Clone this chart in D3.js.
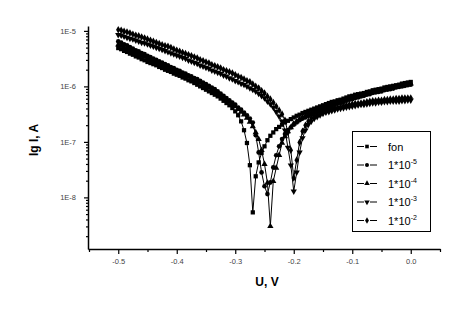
<!DOCTYPE html>
<html>
<head>
<meta charset="utf-8">
<script src="https://cdn.jsdelivr.net/npm/d3@7"></script>
<style>
body { margin: 0; background: #fff; }
svg { display: block; font-family: Arial, "Liberation Sans", sans-serif; }
</style>
</head>
<body>
<svg width="463" height="312"></svg>
<script>
// potential, V
var voltage = [-0.500,-0.495,-0.490,-0.485,-0.480,-0.475,-0.470,-0.465,-0.460,-0.455,-0.450,-0.445,-0.440,-0.435,-0.430,-0.425,-0.420,-0.415,-0.410,-0.405,
  -0.400,-0.395,-0.390,-0.385,-0.380,-0.375,-0.370,-0.365,-0.360,-0.355,-0.350,-0.345,-0.340,-0.335,-0.330,-0.325,-0.320,-0.315,-0.310,-0.305,-0.300,
  -0.295,-0.290,-0.285,-0.280,-0.275,-0.270,-0.265,-0.260,-0.255,-0.250,-0.245,-0.240,-0.235,-0.230,-0.225,-0.220,-0.215,-0.210,-0.205,-0.200,
  -0.195,-0.190,-0.185,-0.180,-0.175,-0.170,-0.165,-0.160,-0.155,-0.150,
  -0.145,-0.140,-0.135,-0.130,-0.125,-0.120,-0.115,-0.110,-0.105,-0.100,-0.095,-0.090,-0.085,-0.080,-0.075,-0.070,-0.065,-0.060,-0.055,-0.050,
  -0.045,-0.040,-0.035,-0.030,-0.025,-0.020,-0.015,-0.010,-0.005,0.000];

// lg I for each solution
var lgFon = [-5.31,-5.33,-5.36,-5.38,-5.41,-5.43,-5.46,-5.48,-5.51,-5.53,-5.56,-5.58,-5.60,-5.62,-5.65,-5.67,-5.70,-5.72,-5.74,-5.77,
  -5.79,-5.81,-5.84,-5.86,-5.89,-5.91,-5.94,-5.97,-6.00,-6.03,-6.06,-6.09,-6.12,-6.15,-6.18,-6.22,-6.26,-6.30,-6.34,-6.39,-6.45,
  -6.52,-6.63,-6.79,-7.02,-7.42,-8.27,-7.62,-7.37,-7.20,-7.08,-6.97,-6.89,-6.83,-6.77,-6.73,-6.69,-6.65,-6.62,-6.59,-6.56,
  -6.53,-6.51,-6.48,-6.46,-6.44,-6.42,-6.40,-6.38,-6.36,-6.34,
  -6.32,-6.30,-6.28,-6.27,-6.25,-6.24,-6.22,-6.20,-6.18,-6.17,-6.15,-6.14,-6.13,-6.12,-6.10,-6.09,-6.07,-6.06,-6.05,-6.04,
  -6.02,-6.01,-6.00,-5.99,-5.98,-5.97,-5.95,-5.94,-5.93,-5.92];
var lg1e5 = [-5.19,-5.21,-5.24,-5.26,-5.29,-5.32,-5.35,-5.37,-5.40,-5.42,-5.45,-5.47,-5.50,-5.52,-5.55,-5.57,-5.60,-5.62,-5.65,-5.67,
  -5.70,-5.72,-5.75,-5.77,-5.80,-5.82,-5.85,-5.87,-5.90,-5.93,-5.96,-5.99,-6.02,-6.05,-6.09,-6.13,-6.17,-6.21,-6.25,-6.29,-6.33,
  -6.38,-6.42,-6.47,-6.52,-6.58,-6.65,-6.88,-7.19,-7.55,-7.80,-7.94,-7.73,-7.46,-7.24,-7.08,-6.95,-6.86,-6.79,-6.74,-6.69,
  -6.65,-6.61,-6.58,-6.56,-6.53,-6.50,-6.48,-6.45,-6.43,-6.41,
  -6.39,-6.37,-6.35,-6.33,-6.31,-6.30,-6.28,-6.26,-6.24,-6.23,-6.21,-6.20,-6.18,-6.17,-6.15,-6.14,-6.12,-6.11,-6.10,-6.09,
  -6.07,-6.06,-6.05,-6.04,-6.02,-6.01,-6.00,-5.99,-5.98,-5.97];
var lg1e4 = [-5.25,-5.27,-5.30,-5.32,-5.35,-5.37,-5.40,-5.42,-5.45,-5.47,-5.50,-5.52,-5.55,-5.57,-5.59,-5.61,-5.64,-5.66,-5.69,-5.71,
  -5.74,-5.76,-5.78,-5.80,-5.83,-5.86,-5.89,-5.91,-5.94,-5.97,-6.00,-6.03,-6.06,-6.09,-6.13,-6.16,-6.20,-6.24,-6.28,-6.32,-6.36,
  -6.41,-6.46,-6.51,-6.57,-6.64,-6.72,-6.83,-6.95,-7.15,-7.40,-7.74,-8.52,-7.71,-7.47,-7.24,-7.02,-6.90,-6.81,-6.74,-6.67,
  -6.63,-6.59,-6.56,-6.53,-6.50,-6.48,-6.45,-6.43,-6.41,-6.39,
  -6.37,-6.35,-6.33,-6.31,-6.29,-6.27,-6.25,-6.24,-6.22,-6.21,-6.19,-6.18,-6.16,-6.15,-6.13,-6.12,-6.10,-6.09,-6.08,-6.07,
  -6.05,-6.04,-6.03,-6.02,-6.00,-5.99,-5.98,-5.97,-5.96,-5.95];
var lg1e3 = [-5.07,-5.08,-5.10,-5.12,-5.14,-5.15,-5.17,-5.19,-5.21,-5.22,-5.24,-5.26,-5.28,-5.30,-5.32,-5.34,-5.36,-5.38,-5.40,-5.42,
  -5.44,-5.46,-5.48,-5.50,-5.53,-5.55,-5.57,-5.59,-5.62,-5.64,-5.66,-5.68,-5.71,-5.73,-5.75,-5.77,-5.80,-5.82,-5.85,-5.87,-5.90,
  -5.92,-5.95,-5.97,-6.00,-6.03,-6.06,-6.09,-6.13,-6.17,-6.21,-6.27,-6.32,-6.38,-6.46,-6.54,-6.63,-6.79,-7.10,-7.42,-7.89,
  -7.55,-7.19,-6.93,-6.79,-6.69,-6.63,-6.58,-6.55,-6.52,-6.49,
  -6.47,-6.46,-6.44,-6.43,-6.41,-6.40,-6.39,-6.38,-6.37,-6.36,-6.35,-6.34,-6.33,-6.33,-6.32,-6.31,-6.30,-6.30,-6.29,-6.29,
  -6.28,-6.28,-6.27,-6.27,-6.27,-6.27,-6.26,-6.26,-6.25,-6.25];
var lg1e2 = [-4.98,-4.99,-5.01,-5.02,-5.04,-5.06,-5.08,-5.09,-5.11,-5.13,-5.15,-5.17,-5.19,-5.21,-5.23,-5.25,-5.27,-5.28,-5.30,-5.33,
  -5.35,-5.37,-5.39,-5.41,-5.43,-5.45,-5.47,-5.49,-5.52,-5.54,-5.56,-5.58,-5.61,-5.63,-5.65,-5.67,-5.70,-5.72,-5.74,-5.76,-5.79,
  -5.82,-5.84,-5.87,-5.90,-5.92,-5.96,-6.00,-6.03,-6.08,-6.12,-6.18,-6.23,-6.29,-6.36,-6.43,-6.50,-6.61,-6.83,-7.15,-7.65,
  -7.33,-7.01,-6.81,-6.70,-6.63,-6.57,-6.54,-6.51,-6.48,-6.46,
  -6.44,-6.42,-6.40,-6.39,-6.38,-6.37,-6.35,-6.34,-6.33,-6.32,-6.31,-6.31,-6.30,-6.29,-6.28,-6.27,-6.26,-6.26,-6.25,-6.25,
  -6.24,-6.24,-6.23,-6.23,-6.22,-6.22,-6.21,-6.21,-6.21,-6.21];

var seriesNames = ["fon", "1*10", "1*10", "1*10", "1*10"];
var seriesExp = ["", "-5", "-4", "-3", "-2"];
var seriesValues = [lgFon, lg1e5, lg1e4, lg1e3, lg1e2];
var seriesSymbols = [d3.symbolSquare, d3.symbolCircle, d3.symbolTriangle, d3.symbolTriangle, d3.symbolDiamond];

var xMajor = [-0.5, -0.4, -0.3, -0.2, -0.1, 0.0];
var xMinor = [-0.55, -0.45, -0.35, -0.25, -0.15, -0.05, 0.05];
var yMajor = [1e-8, 1e-7, 1e-6, 1e-5];

var svg = d3.select("svg");

var x = d3.scaleLinear().domain([-0.55, 0.05]).range([89, 440]);
var y = d3.scaleLog().domain([Math.pow(10, -8.93), Math.pow(10, -4.93)]).range([249, 27]);

// minor log ticks
var yMinor = [];
[-9, -8, -7, -6, -5].forEach(function(e) {
    for (var k = 2; k <= 9; k++) {
        var v = k * Math.pow(10, e);
        if (v > y.domain()[0] && v < y.domain()[1]) yMinor.push(v);
    }
});

// x axis
svg.append("g")
    .attr("transform", "translate(0,249)")
    .call(d3.axisBottom(x).tickValues(xMinor).tickSize(3).tickSizeOuter(0).tickFormat(""))
    .call(function(g) { g.select(".domain").remove(); });
var xAx = svg.append("g")
    .attr("transform", "translate(0,249)")
    .call(d3.axisBottom(x).tickValues(xMajor).tickSize(5).tickSizeOuter(0).tickPadding(5)
        .tickFormat(function(d) { return d.toFixed(1); }));

// y axis
svg.append("g")
    .attr("transform", "translate(89,0)")
    .call(d3.axisLeft(y).tickValues(yMinor).tickSize(3).tickSizeOuter(0).tickFormat(""))
    .call(function(g) { g.select(".domain").remove(); });
var yAx = svg.append("g")
    .attr("transform", "translate(89,0)")
    .call(d3.axisLeft(y).tickValues(yMajor).tickSize(5).tickSizeOuter(0).tickPadding(8)
        .tickFormat(function(d) { return "1E-" + Math.round(-Math.log10(d)); }));

svg.selectAll(".tick line").attr("stroke", "#000").attr("stroke-width", 1.2);
svg.selectAll(".domain").attr("stroke", "#000").attr("stroke-width", 1.5);
svg.selectAll(".tick text").attr("font-size", 7.5).attr("fill", "#444")
    .attr("font-family", "Arial, 'Liberation Sans', sans-serif");
xAx.select(".domain").attr("d", "M88.5,0.5H440.5");
yAx.select(".domain").attr("d", "M-0.5,249.5V26.5");

// axis titles
svg.append("text")
    .attr("x", 267).attr("y", 286)
    .attr("text-anchor", "middle")
    .attr("font-size", 12).attr("font-weight", "bold")
    .text("U, V");
svg.append("text")
    .attr("transform", "translate(38,140) rotate(-90)")
    .attr("text-anchor", "middle")
    .attr("font-size", 12).attr("font-weight", "bold")
    .text("lg I, A");

// curves
var line = d3.line()
    .x(function(d) { return x(d[0]); })
    .y(function(d) { return y(Math.pow(10, d[1])); });

var plot = svg.append("g");
seriesValues.forEach(function(vals, i) {
    var pts = voltage.map(function(u, j) { return [u, vals[j]]; });
    plot.append("path")
        .datum(pts)
        .attr("d", line)
        .attr("fill", "none")
        .attr("stroke", "#000")
        .attr("stroke-width", 1);
    var sym = d3.symbol().type(seriesSymbols[i]).size(i == 0 ? 18 : 17);
    plot.selectAll(".m" + i)
        .data(pts)
        .enter()
        .append("path")
        .attr("class", "m" + i)
        .attr("d", sym)
        .attr("fill", "#000")
        .attr("transform", function(d) {
            return "translate(" + x(d[0]) + "," + y(Math.pow(10, d[1])) + ")" + (i == 3 ? " rotate(180)" : "");
        });
});

// legend
var legend = svg.append("g");
legend.append("rect")
    .attr("x", 352.5).attr("y", 131.5)
    .attr("width", 78).attr("height", 100)
    .attr("fill", "#fff").attr("stroke", "#000").attr("stroke-width", 1);
var rowY = d3.scaleLinear().domain([0, 4]).range([146, 220]);
seriesNames.forEach(function(name, i) {
    var yy = rowY(i) + 0.5;
    legend.append("line")
        .attr("x1", 357).attr("x2", 364)
        .attr("y1", yy).attr("y2", yy)
        .attr("stroke", "#000").attr("stroke-width", 1);
    legend.append("line")
        .attr("x1", 370).attr("x2", 377)
        .attr("y1", yy).attr("y2", yy)
        .attr("stroke", "#000").attr("stroke-width", 1);
    legend.append("path")
        .attr("d", d3.symbol().type(seriesSymbols[i]).size(13))
        .attr("transform", "translate(367," + yy + ")" + (i == 3 ? " rotate(180)" : ""))
        .attr("fill", "#000");
    var t = legend.append("text")
        .attr("x", 388).attr("y", yy + 4)
        .attr("font-size", 11)
        .attr("fill", "#000")
        .text(name);
    if (seriesExp[i]) {
        t.append("tspan")
            .attr("dy", -5)
            .attr("font-size", 7)
            .text(seriesExp[i]);
    }
});
</script>
</body>
</html>
